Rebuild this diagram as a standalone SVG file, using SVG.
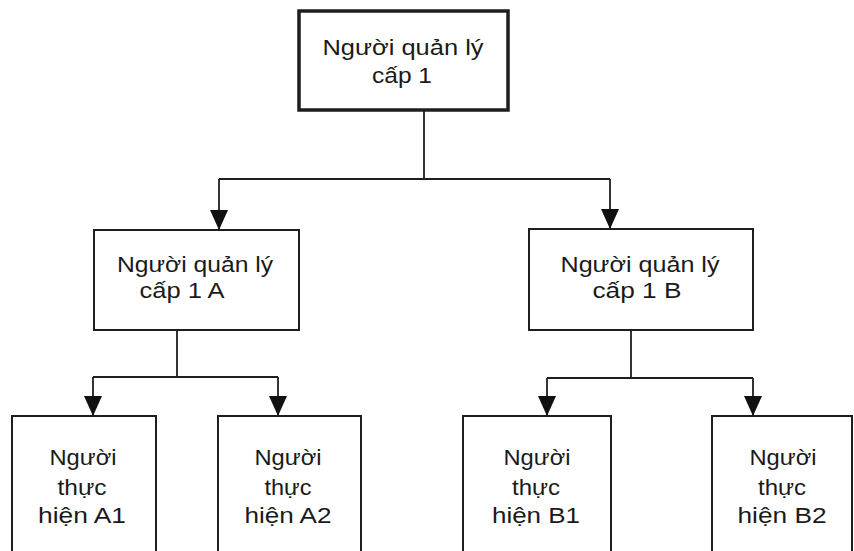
<svg xmlns="http://www.w3.org/2000/svg" width="854" height="551" viewBox="0 0 854 551">
<style>
.box{fill:#fff;stroke:#1e1e1e;stroke-width:2}
.top{stroke-width:3.5}
.t{font-family:"Liberation Sans",Arial,sans-serif;font-size:22px;fill:#1a1a1a;text-anchor:middle}
.c{fill:none;stroke:#1e1e1e;stroke-width:1.8}
</style>
<defs>
<marker id="arr" viewBox="0 0 20 18" refX="20" refY="9" markerWidth="20" markerHeight="18" markerUnits="userSpaceOnUse" orient="auto">
<path d="M0,0 L20,9 L0,18 Z" fill="#111"/>
</marker>
</defs>
<rect width="854" height="551" fill="#fff"/>
<g id="connectors">
<path class="c" d="M424,110 V179 M219,179 H610"/>
<path class="c" d="M219,179 V230" marker-end="url(#arr)"/>
<path class="c" d="M610,179 V229" marker-end="url(#arr)"/>
<path class="c" d="M177,330 V377 M93,377 H278"/>
<path class="c" d="M93,377 V416" marker-end="url(#arr)"/>
<path class="c" d="M278,377 V416" marker-end="url(#arr)"/>
<path class="c" d="M631,330 V378 M547,378 H753"/>
<path class="c" d="M547,378 V416" marker-end="url(#arr)"/>
<path class="c" d="M753,378 V416" marker-end="url(#arr)"/>
</g>
<g id="n-top">
<rect class="box top" x="299" y="11" width="209" height="99"/>
<text class="t" x="403" y="55" textLength="161" lengthAdjust="spacingAndGlyphs">Người quản lý</text>
<text class="t" x="402" y="83" textLength="60" lengthAdjust="spacingAndGlyphs">cấp 1</text>
</g>
<g id="n-a">
<rect class="box" x="94" y="230" width="205" height="100"/>
<text class="t" x="195" y="272" textLength="156" lengthAdjust="spacingAndGlyphs">Người quản lý</text>
<text class="t" x="182" y="298" textLength="85" lengthAdjust="spacingAndGlyphs">cấp 1 A</text>
</g>
<g id="n-b">
<rect class="box" x="529" y="229" width="224" height="101"/>
<text class="t" x="640" y="272" textLength="159" lengthAdjust="spacingAndGlyphs">Người quản lý</text>
<text class="t" x="637" y="298" textLength="89" lengthAdjust="spacingAndGlyphs">cấp 1 B</text>
</g>
<g id="n-a1">
<rect class="box" x="12" y="416" width="144" height="150"/>
<text class="t" x="83" y="465" textLength="67" lengthAdjust="spacingAndGlyphs">Người</text>
<text class="t" x="82" y="495" textLength="49" lengthAdjust="spacingAndGlyphs">thực</text>
<text class="t" x="82" y="523" textLength="88" lengthAdjust="spacingAndGlyphs">hiện A1</text>
</g>
<g id="n-a2">
<rect class="box" x="218" y="416" width="143" height="150"/>
<text class="t" x="288" y="465" textLength="67" lengthAdjust="spacingAndGlyphs">Người</text>
<text class="t" x="288" y="495" textLength="47" lengthAdjust="spacingAndGlyphs">thực</text>
<text class="t" x="288" y="523" textLength="87" lengthAdjust="spacingAndGlyphs">hiện A2</text>
</g>
<g id="n-b1">
<rect class="box" x="463" y="416" width="148" height="150"/>
<text class="t" x="537" y="465" textLength="67" lengthAdjust="spacingAndGlyphs">Người</text>
<text class="t" x="536" y="495" textLength="48" lengthAdjust="spacingAndGlyphs">thực</text>
<text class="t" x="536" y="523" textLength="88" lengthAdjust="spacingAndGlyphs">hiện B1</text>
</g>
<g id="n-b2">
<rect class="box" x="712" y="416" width="140" height="150"/>
<text class="t" x="783" y="465" textLength="67" lengthAdjust="spacingAndGlyphs">Người</text>
<text class="t" x="782" y="495" textLength="48" lengthAdjust="spacingAndGlyphs">thực</text>
<text class="t" x="782" y="523" textLength="89" lengthAdjust="spacingAndGlyphs">hiện B2</text>
</g>
</svg>
